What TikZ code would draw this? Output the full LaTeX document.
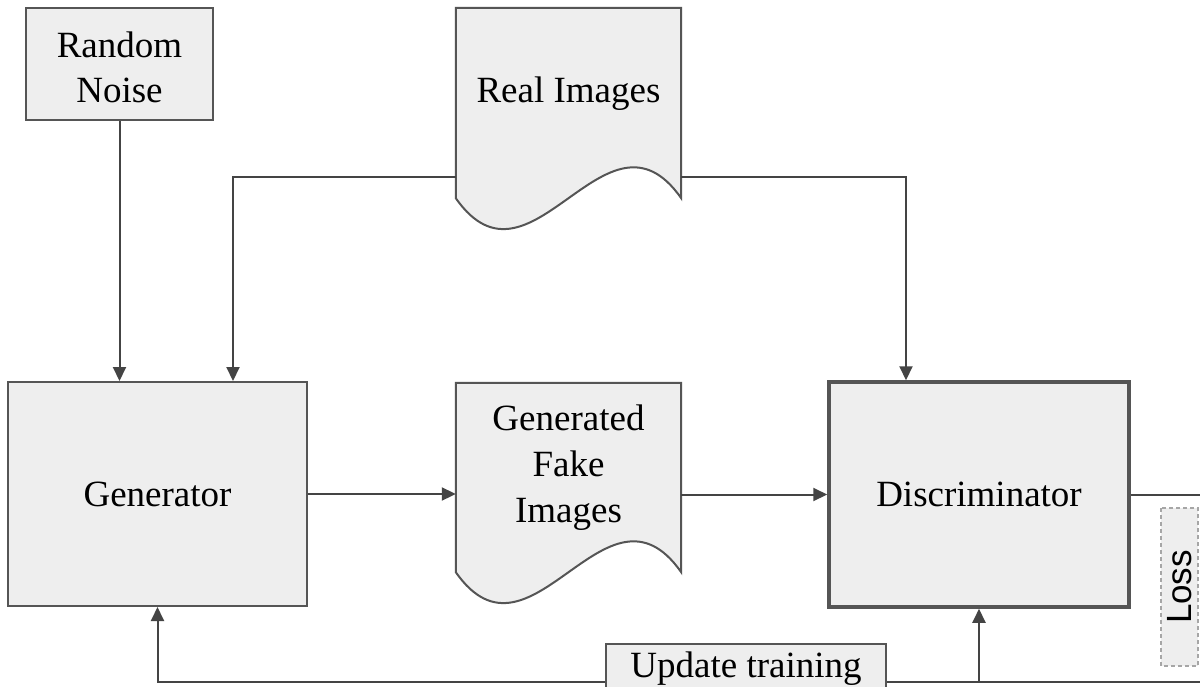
\documentclass[tikz,border=0pt]{standalone}
\usepackage{fontspec}
\setmainfont{Liberation Serif}
\newfontfamily\lossfont{Liberation Sans}
\usetikzlibrary{arrows.meta,calc}
\definecolor{ln}{HTML}{444444}
\definecolor{bx}{HTML}{555555}
\definecolor{fl}{HTML}{EEEEEE}
\tikzset{
  box/.style={draw=bx, fill=fl, line width=2pt, inner sep=0pt, align=center, font=\fontsize{37}{45}\selectfont},
  doc/.style={draw=none, inner sep=0pt},
  conn/.style={draw=ln, line width=2pt},
  arr/.style={conn, -{Triangle[length=14pt,width=13pt]}},
  lbl/.style={align=center, font=\fontsize{37}{46}\selectfont, inner sep=0pt},
  docpath/.style={draw=bx, fill=fl, line width=2pt}
}
\begin{document}
\begin{tikzpicture}[x=1pt,y=1pt]
\useasboundingbox (0,0) rectangle (1200,-686);
\clip (0,0) rectangle (1200,-686);
\fill[white] (0,0) rectangle (1200,-686);

% nodes
\node[box, minimum width=187pt, minimum height=112pt] (noise) at (119.5,-64) {};
\node[lbl, font=\fontsize{37}{45}\selectfont] (noisetxt) at (119.5,-67) {Random\\Noise};
\node[box, minimum width=299pt, minimum height=224pt] (gen) at (157.5,-494) {Generator};
\node[box, draw=bx, line width=3.5pt, minimum width=300pt, minimum height=225pt] (disc) at (979,-494.5) {Discriminator};

\node[doc, minimum width=225pt, minimum height=190pt] (real) at (568.5,-103) {};
\path[docpath] (real.south west) -- (real.north west) -- (real.north east) -- (real.south east)
  .. controls ($(real.south east)+(-75,107)$) and ($(real.south west)+(75,-107)$) .. (real.south west) -- cycle;
\node[lbl] (realtxt) at ($(real.center)+(0,9)$) {Real Images};

\node[doc, minimum width=225pt, minimum height=189pt] (fake) at (568.5,-477.5) {};
\path[docpath] (fake.south west) -- (fake.north west) -- (fake.north east) -- (fake.south east)
  .. controls ($(fake.south east)+(-75,107)$) and ($(fake.south west)+(75,-107)$) .. (fake.south west) -- cycle;
\node[lbl] (faketxt) at ($(fake.center)+(0,10)$) {Generated\\Fake\\Images};

\coordinate (rout) at (1200,-494.5);
\coordinate (bR) at (1200,-682);

% connectors
\draw[arr] (noise.south) -- (noise.south |- gen.north);
\draw[arr] ([yshift=-169pt]real.north west) -| ([xshift=75.5pt]gen.north);
\draw[arr] ([yshift=-169pt]real.north east) -| ([xshift=-73pt]disc.north);
\draw[arr] (gen.east) -- (gen.east -| fake.west);
\draw[arr] (fake.east |- disc.west) -- (disc.west);
\draw[conn] (disc.east) -- (rout);
\draw[arr] (bR) -| (gen.south);
\draw[arr] (disc.south |- bR) -- (disc.south);

% update training and loss
\node[box, minimum width=280pt, minimum height=56pt, text height=21pt, text depth=10pt] (upd) at (746,-672) {Update training};
\node[draw=gray!70, fill=fl, dashed, dash pattern=on 4pt off 3pt, line width=2pt, rotate=90,
      minimum width=158pt, minimum height=37pt, inner sep=0pt,
      font=\lossfont\fontsize{35}{40}\selectfont] (loss) at (1179.5,-587) {Loss};
\end{tikzpicture}
\end{document}
